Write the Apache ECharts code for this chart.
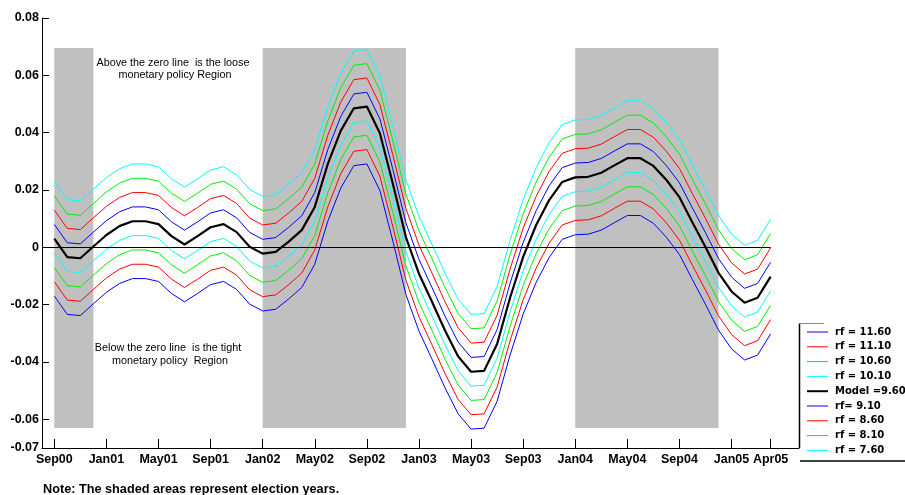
<!DOCTYPE html>
<html><head><meta charset="utf-8">
<script src="https://cdn.jsdelivr.net/npm/echarts@6/dist/echarts.min.js"></script>
<style>html,body{margin:0;padding:0;background:#fff}#c{width:905px;height:495px}</style>
</head><body><div id="c"></div>
<script>
const months = ['Sep00','Oct00','Nov00','Dec00',
 'Jan01','Feb01','Mar01','Apr01','May01','Jun01','Jul01','Aug01','Sep01','Oct01','Nov01','Dec01',
 'Jan02','Feb02','Mar02','Apr02','May02','Jun02','Jul02','Aug02','Sep02','Oct02','Nov02','Dec02',
 'Jan03','Feb03','Mar03','Apr03','May03','Jun03','Jul03','Aug03','Sep03','Oct03','Nov03','Dec03',
 'Jan04','Feb04','Mar04','Apr04','May04','Jun04','Jul04','Aug04','Sep04','Oct04','Nov04','Dec04',
 'Jan05','Feb05','Mar05','Apr05'];
const tickLabels = ['Sep00','Jan01','May01','Sep01','Jan02','May02','Sep02','Jan03','May03','Sep03','Jan04','May04','Sep04','Jan05','Apr05'];
const yTicks = [-0.07,-0.06,-0.04,-0.02,0,0.02,0.04,0.06,0.08];
const electionYears = [['Sep00','Dec00'],['Jan02','Dec02'],['Jan04','Dec04']];
const shadeTop = 0.0695, shadeBottom = -0.063;

const rf1160 = [-0.0170,-0.0234,-0.0238,-0.0197,-0.0157,-0.0126,-0.0109,-0.0109,-0.0119,-0.0161,-0.0190,-0.0161,-0.0130,-0.0119,-0.0147,-0.0198,-0.0222,-0.0216,-0.0180,-0.0140,-0.0059,0.0091,0.0207,0.0285,0.0291,0.0198,0.0021,-0.0165,-0.0292,-0.0390,-0.0490,-0.0580,-0.0634,-0.0631,-0.0537,-0.0375,-0.0233,-0.0122,-0.0035,0.0028,0.0044,0.0046,0.0060,0.0086,0.0111,0.0111,0.0084,0.0035,-0.0025,-0.0113,-0.0199,-0.0289,-0.0354,-0.0393,-0.0376,-0.0302];
const rf1110 = [-0.0120,-0.0184,-0.0188,-0.0147,-0.0107,-0.0076,-0.0059,-0.0059,-0.0069,-0.0111,-0.0140,-0.0111,-0.0080,-0.0069,-0.0097,-0.0148,-0.0172,-0.0166,-0.0130,-0.0090,-0.0009,0.0141,0.0257,0.0335,0.0341,0.0248,0.0071,-0.0115,-0.0242,-0.0340,-0.0440,-0.0530,-0.0584,-0.0581,-0.0487,-0.0325,-0.0183,-0.0072,0.0015,0.0078,0.0094,0.0096,0.0110,0.0136,0.0161,0.0161,0.0134,0.0085,0.0025,-0.0063,-0.0149,-0.0239,-0.0304,-0.0343,-0.0326,-0.0252];
const rf1060 = [-0.0070,-0.0134,-0.0138,-0.0097,-0.0057,-0.0026,-0.0009,-0.0009,-0.0019,-0.0061,-0.0090,-0.0061,-0.0030,-0.0019,-0.0047,-0.0098,-0.0122,-0.0116,-0.0080,-0.0040,0.0041,0.0191,0.0307,0.0385,0.0391,0.0298,0.0121,-0.0065,-0.0192,-0.0290,-0.0390,-0.0480,-0.0534,-0.0531,-0.0437,-0.0275,-0.0133,-0.0022,0.0065,0.0128,0.0144,0.0146,0.0160,0.0186,0.0211,0.0211,0.0184,0.0135,0.0075,-0.0013,-0.0099,-0.0189,-0.0254,-0.0293,-0.0276,-0.0202];
const rf1010 = [-0.0020,-0.0084,-0.0088,-0.0047,-0.0007,0.0024,0.0041,0.0041,0.0031,-0.0011,-0.0040,-0.0011,0.0020,0.0031,0.0003,-0.0048,-0.0072,-0.0066,-0.0030,0.0010,0.0091,0.0241,0.0357,0.0435,0.0441,0.0348,0.0171,-0.0015,-0.0142,-0.0240,-0.0340,-0.0430,-0.0484,-0.0481,-0.0387,-0.0225,-0.0083,0.0028,0.0115,0.0178,0.0194,0.0196,0.0210,0.0236,0.0261,0.0261,0.0234,0.0185,0.0125,0.0037,-0.0049,-0.0139,-0.0204,-0.0243,-0.0226,-0.0152];
const model960 = [0.0030,-0.0034,-0.0038,0.0003,0.0043,0.0074,0.0091,0.0091,0.0081,0.0039,0.0010,0.0039,0.0070,0.0081,0.0053,0.0002,-0.0022,-0.0016,0.0020,0.0060,0.0141,0.0291,0.0407,0.0485,0.0491,0.0398,0.0221,0.0035,-0.0092,-0.0190,-0.0290,-0.0380,-0.0434,-0.0431,-0.0337,-0.0175,-0.0033,0.0078,0.0165,0.0228,0.0244,0.0246,0.0260,0.0286,0.0311,0.0311,0.0284,0.0235,0.0175,0.0087,0.0001,-0.0089,-0.0154,-0.0193,-0.0176,-0.0102];
const rf910 = [0.0080,0.0016,0.0012,0.0053,0.0093,0.0124,0.0141,0.0141,0.0131,0.0089,0.0060,0.0089,0.0120,0.0131,0.0103,0.0052,0.0028,0.0034,0.0070,0.0110,0.0191,0.0341,0.0457,0.0535,0.0541,0.0448,0.0271,0.0085,-0.0042,-0.0140,-0.0240,-0.0330,-0.0384,-0.0381,-0.0287,-0.0125,0.0017,0.0128,0.0215,0.0278,0.0294,0.0296,0.0310,0.0336,0.0361,0.0361,0.0334,0.0285,0.0225,0.0137,0.0051,-0.0039,-0.0104,-0.0143,-0.0126,-0.0052];
const rf860 = [0.0130,0.0066,0.0062,0.0103,0.0143,0.0174,0.0191,0.0191,0.0181,0.0139,0.0110,0.0139,0.0170,0.0181,0.0153,0.0102,0.0078,0.0084,0.0120,0.0160,0.0241,0.0391,0.0507,0.0585,0.0591,0.0498,0.0321,0.0135,0.0008,-0.0090,-0.0190,-0.0280,-0.0334,-0.0331,-0.0237,-0.0075,0.0067,0.0178,0.0265,0.0328,0.0344,0.0346,0.0360,0.0386,0.0411,0.0411,0.0384,0.0335,0.0275,0.0187,0.0101,0.0011,-0.0054,-0.0093,-0.0076,-0.0002];
const rf810 = [0.0180,0.0116,0.0112,0.0153,0.0193,0.0224,0.0241,0.0241,0.0231,0.0189,0.0160,0.0189,0.0220,0.0231,0.0203,0.0152,0.0128,0.0134,0.0170,0.0210,0.0291,0.0441,0.0557,0.0635,0.0641,0.0548,0.0371,0.0185,0.0058,-0.0040,-0.0140,-0.0230,-0.0284,-0.0281,-0.0187,-0.0025,0.0117,0.0228,0.0315,0.0378,0.0394,0.0396,0.0410,0.0436,0.0461,0.0461,0.0434,0.0385,0.0325,0.0237,0.0151,0.0061,-0.0004,-0.0043,-0.0026,0.0048];
const rf760 = [0.0230,0.0166,0.0162,0.0203,0.0243,0.0274,0.0291,0.0291,0.0281,0.0239,0.0210,0.0239,0.0270,0.0281,0.0253,0.0202,0.0178,0.0184,0.0220,0.0260,0.0341,0.0491,0.0607,0.0685,0.0691,0.0598,0.0421,0.0235,0.0108,0.0010,-0.0090,-0.0180,-0.0234,-0.0231,-0.0137,0.0025,0.0167,0.0278,0.0365,0.0428,0.0444,0.0446,0.0460,0.0486,0.0511,0.0511,0.0484,0.0435,0.0375,0.0287,0.0201,0.0111,0.0046,0.0007,0.0024,0.0098];

const seriesNames = ['rf = 11.60','rf = 11.10','rf = 10.60','rf = 10.10','Model =9.60','rf= 9.10','rf = 8.60','rf = 8.10','rf = 7.60'];
const seriesData = [rf1160, rf1110, rf1060, rf1010, model960, rf910, rf860, rf810, rf760];
const seriesColors = ['#0000ff','#ff0000','#00f000','#00ffff','#000000','#0000ff','#ff0000','#00f000','#00ffff'];

const chart = echarts.init(document.getElementById('c'), null, {renderer:'canvas'});
const xMin = -0.944, xMax = 57.18;
const FONT = 'Liberation Sans, Arial, sans-serif';
const thinIcon = 'path://M0,0M21,14M0,6.5L21,6.5L21,7.5L0,7.5Z';
const thickIcon = 'path://M0,0M21,14M0,6L21,6L21,8L0,8Z';

const series = seriesData.map((arr, k) => {
  const isModel = seriesNames[k].startsWith('Model');
  return {
    name: seriesNames[k], type: 'line', symbol: 'none', showSymbol: false, silent: true,
    data: arr.map((v, i) => [i, v]),
    lineStyle: { color: seriesColors[k], width: isModel ? 2.2 : 1 },
    itemStyle: { color: seriesColors[k] },
    z: isModel ? 4 : 3
  };
});
series.unshift({
  name: 'shade', type: 'line', data: [], silent: true, z: 1,
  markArea: {
    silent: true,
    itemStyle: { color: '#c0c0c0', borderWidth: 0 },
    data: electionYears.map(([a, b]) => [{ coord: [months.indexOf(a), shadeTop] }, { coord: [months.indexOf(b), shadeBottom] }])
  },
  markLine: {
    silent: true, symbol: 'none',
    label: { show: false },
    lineStyle: { color: '#000', width: 1, type: 'solid' },
    data: [[{ coord: [xMin, 0] }, { coord: [months.length - 1, 0] }]]
  }
});

chart.setOption({
  animation: false,
  backgroundColor: '#fff',
  grid: { left: 42, right: 106, top: 18, bottom: 47 },
  xAxis: {
    type: 'value', min: xMin, max: xMax,
    axisLine: { onZero: false, lineStyle: { color: '#000', width: 1 } },
    axisTick: { inside: true, length: 9, lineStyle: { color: '#000' }, customValues: tickLabels.map(t => months.indexOf(t)) },
    axisLabel: { customValues: tickLabels.map(t => months.indexOf(t)), formatter: v => months[Math.round(v)], color: '#000', fontWeight: 'bold', fontSize: 12.5, fontFamily: FONT, margin: 5 },
    splitLine: { show: false }
  },
  yAxis: {
    type: 'value', min: -0.07, max: 0.08,
    axisLine: { show: true, onZero: false, lineStyle: { color: '#000', width: 1 } },
    axisTick: { show: true, inside: true, length: 7, lineStyle: { color: '#000' }, customValues: yTicks },
    axisLabel: { customValues: yTicks, formatter: v => Math.abs(v) < 1e-9 ? '0' : v.toFixed(2), color: '#000', fontWeight: 'bold', fontSize: 12.5, fontFamily: FONT, margin: 3 },
    splitLine: { show: false }
  },
  legend: {
    data: seriesNames.map(n => ({ name: n, icon: n.startsWith('Model') ? thickIcon : thinIcon })),
    orient: 'vertical', left: 807, top: 325,
    padding: 0, itemWidth: 21, itemHeight: 14, itemGap: 0.8,
    selectedMode: false,
    textStyle: { color: '#000', fontFamily: 'DejaVu Sans', fontWeight: 'bold', fontSize: 10, lineHeight: 14, padding: [0, 0, 0, 2] }
  },
  graphic: [
    { type: 'text', x: 173, y: 63, z: 100, style: { text: 'Above the zero line  is the loose', font: '10.8px ' + FONT, fill: '#000', align: 'center', verticalAlign: 'middle' } },
    { type: 'text', x: 175, y: 75.5, z: 100, style: { text: 'monetary policy Region', font: '10.8px ' + FONT, fill: '#000', align: 'center', verticalAlign: 'middle' } },
    { type: 'text', x: 168, y: 348, z: 100, style: { text: 'Below the zero line  is the tight', font: '10.8px ' + FONT, fill: '#000', align: 'center', verticalAlign: 'middle' } },
    { type: 'text', x: 170, y: 361, z: 100, style: { text: 'monetary policy  Region', font: '10.8px ' + FONT, fill: '#000', align: 'center', verticalAlign: 'middle' } },
    { type: 'text', x: 43, y: 489, z: 100, style: { text: 'Note: The shaded areas represent election years.', font: 'bold 12.7px ' + FONT, fill: '#000', align: 'left', verticalAlign: 'middle' } },
    { type: 'line', z: 100, shape: { x1: 799.5, y1: 323, x2: 799.5, y2: 448 }, style: { stroke: '#000', lineWidth: 1.5 } },
    { type: 'line', z: 100, shape: { x1: 799, y1: 323.5, x2: 824, y2: 323.5 }, style: { stroke: '#888', lineWidth: 1 } },
    { type: 'line', z: 100, shape: { x1: 800, y1: 461, x2: 905, y2: 461 }, style: { stroke: '#000', lineWidth: 1.5 } }
  ],
  series: series
});
</script></body></html>
